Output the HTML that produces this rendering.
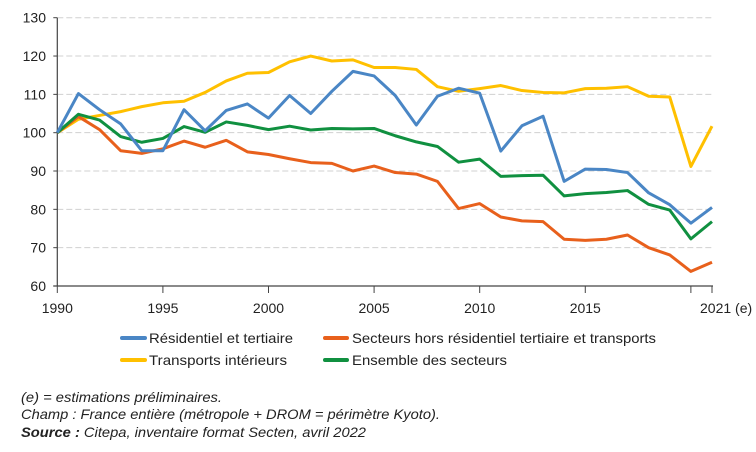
<!DOCTYPE html>
<html><head><meta charset="utf-8"><style>
html,body{margin:0;padding:0;background:#fff;}
svg{display:block;font-family:"Liberation Sans",sans-serif;}
</style></head><body>
<svg id="chart" width="756" height="452" viewBox="0 0 756 452">
<g id="grid"></g>
<g id="axes"></g>
<g id="series"></g>
<g font-size="14" fill="#222">
 <g><rect x="120" y="336" width="27" height="4" rx="2" fill="#4a86c5"/><text x="149" y="343" textLength="144" lengthAdjust="spacingAndGlyphs">Résidentiel et tertiaire</text></g>
 <g><rect x="323" y="336" width="26" height="4" rx="2" fill="#e8601c"/><text x="352" y="343" textLength="304" lengthAdjust="spacingAndGlyphs">Secteurs hors résidentiel tertiaire et transports</text></g>
 <g><rect x="120" y="358" width="27" height="4" rx="2" fill="#ffc000"/><text x="149" y="365" textLength="138" lengthAdjust="spacingAndGlyphs">Transports intérieurs</text></g>
 <g><rect x="323" y="358" width="26" height="4" rx="2" fill="#109040"/><text x="352" y="365" textLength="155" lengthAdjust="spacingAndGlyphs">Ensemble des secteurs</text></g>
</g>
<g font-size="14" font-style="italic" fill="#222">
 <text x="21" y="402" textLength="201" lengthAdjust="spacingAndGlyphs">(e) = estimations préliminaires.</text>
 <text x="21" y="419" textLength="419" lengthAdjust="spacingAndGlyphs">Champ : France entière (métropole + DROM = périmètre Kyoto).</text>
 <text x="21" y="437" textLength="345" lengthAdjust="spacingAndGlyphs"><tspan font-weight="bold">Source :</tspan> Citepa, inventaire format Secten, avril 2022</text>
</g>
</svg>
<script>
const years=[1990,1991,1992,1993,1994,1995,1996,1997,1998,1999,2000,2001,2002,2003,2004,2005,2006,2007,2008,2009,2010,2011,2012,2013,2014,2015,2016,2017,2018,2019,2020,2021];
const residentiel=[100,110.2,106,102.3,95.3,95.3,106,100.5,105.8,107.5,103.8,109.7,105,110.8,116,114.8,109.7,102,109.5,111.6,110.3,95.2,101.8,104.3,87.3,90.5,90.4,89.6,84.3,81.2,76.4,80.5];
const transports=[100,103.5,104.5,105.5,106.8,107.8,108.2,110.5,113.5,115.5,115.7,118.5,120,118.7,119,117,117,116.5,112,110.8,111.5,112.3,111,110.5,110.4,111.5,111.6,112,109.5,109.3,91.2,101.7];
const ensemble=[100,104.8,103.3,99,97.5,98.5,101.6,100.1,102.8,101.9,100.8,101.7,100.7,101.1,101,101.1,99.2,97.6,96.4,92.3,93.1,88.6,88.8,88.9,83.5,84.1,84.4,84.9,81.3,79.8,72.3,76.8];
const secteursHors=[100,104.2,100.8,95.3,94.6,95.8,97.8,96.2,98,95,94.3,93.2,92.2,92,90,91.3,89.6,89.2,87.3,80.2,81.5,78,77,76.8,72.2,71.9,72.2,73.3,70,68.1,63.8,66.2];
const yTicks=[60,70,80,90,100,110,120,130];
const xTicks=[1990,1995,2000,2005,2010,2015,2020,2021];
const xTickLabels=["1990","1995","2000","2005","2010","2015","","2021 (e)"];

const NS="http://www.w3.org/2000/svg";
const X0=57.3,X1=712,Y0=286,Y1=17.7;
const xs=y=>X0+(y-1990)*(X1-X0)/(2021-1990);
const ys=v=>Y0-(v-60)*(Y0-Y1)/(130-60);
function mk(tag,attrs,parent){const e=document.createElementNS(NS,tag);for(const k in attrs)e.setAttribute(k,attrs[k]);parent.appendChild(e);return e;}
const grid=document.getElementById('grid'),axes=document.getElementById('axes'),series=document.getElementById('series');
yTicks.forEach(t=>{
  if(t>60){const l=mk('line',{x1:X0,x2:X1+2,y1:ys(t),y2:ys(t),stroke:'#d0d0d0','stroke-width':1,'stroke-dasharray':'6,3'},grid);
  
  }
  const tk=mk('line',{x1:X0-4,x2:X0,y1:ys(t),y2:ys(t),stroke:'#444'},axes);
  
  
  const tx=mk('text',{x:46,y:ys(t)+5,'text-anchor':'end','font-size':14,fill:'#222'},axes);
  tx.textContent=t;
  
  
});
const ya=mk('line',{x1:X0,x2:X0,y1:Y1,y2:Y0,stroke:'#444','stroke-width':1.2},axes);


const xa=mk('line',{x1:X0-4,x2:X1+1,y1:Y0,y2:Y0,stroke:'#444','stroke-width':1.2},axes);


xTicks.forEach((t,i)=>{
  const tk=mk('line',{x1:xs(t),x2:xs(t),y1:Y0,y2:Y0+7,stroke:'#444'},axes);
  
  
  if(xTickLabels[i]){
    const isLast=i===xTicks.length-1;
    const tx=mk('text',{x:isLast?xs(t)-12:xs(t),y:313,'text-anchor':isLast?'start':'middle','font-size':14,fill:'#222'},axes);
    tx.textContent=xTickLabels[i];
    
    
  }
});
[[transports,'#ffc000','line-transports'],[secteursHors,'#e8601c','line-secteurs-hors'],[ensemble,'#109040','line-ensemble'],[residentiel,'#4a86c5','line-residentiel']].forEach(([d,c,n])=>{
  const p=mk('polyline',{points:d.map((v,i)=>xs(years[i])+','+ys(v)).join(' '),fill:'none',stroke:c,'stroke-width':3,'stroke-linejoin':'round'},series);
  
  
});
</script>
</body></html>
